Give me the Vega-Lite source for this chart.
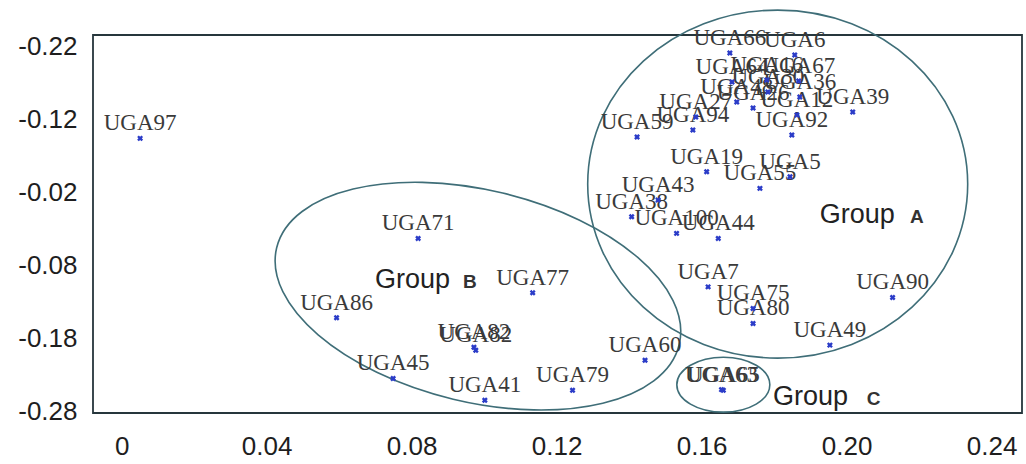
{
  "$schema": "https://vega.github.io/schema/vega-lite/v6.json",
  "width": 929,
  "height": 378,
  "autosize": "none",
  "padding": {"left": 93, "top": 35, "right": 4, "bottom": 51},
  "background": "white",
  "config": {"view": {"stroke": "#26363c", "strokeWidth": 1.8}},
  "datasets": {
    "pts": [
      {"id": "UGA97", "x": 0.0051, "y": 0.0945},
      {"id": "UGA71", "x": 0.0818, "y": -0.0425},
      {"id": "UGA77", "x": 0.1134, "y": -0.117},
      {"id": "UGA86", "x": 0.0593, "y": -0.151},
      {"id": "UGA82", "x": 0.0972, "y": -0.1914},
      {"id": "UGA82", "x": 0.0977, "y": -0.1955},
      {"id": "UGA45", "x": 0.0749, "y": -0.2342},
      {"id": "UGA41", "x": 0.1002, "y": -0.264},
      {"id": "UGA79", "x": 0.1244, "y": -0.2503},
      {"id": "UGA60", "x": 0.1444, "y": -0.2092},
      {"id": "UGA19", "x": 0.1614, "y": 0.0488},
      {"id": "UGA5", "x": 0.1844, "y": 0.0419},
      {"id": "UGA55", "x": 0.1761, "y": 0.026},
      {"id": "UGA43", "x": 0.148, "y": 0.01},
      {"id": "UGA38", "x": 0.1407, "y": -0.0129},
      {"id": "UGA100", "x": 0.1531, "y": -0.0356},
      {"id": "UGA44", "x": 0.1646, "y": -0.0425},
      {"id": "UGA7", "x": 0.1618, "y": -0.1088},
      {"id": "UGA75", "x": 0.1742, "y": -0.1384},
      {"id": "UGA80", "x": 0.1742, "y": -0.1589},
      {"id": "UGA90", "x": 0.2127, "y": -0.1233},
      {"id": "UGA49", "x": 0.1954, "y": -0.1886},
      {"id": "UGA65", "x": 0.166, "y": -0.2503},
      {"id": "UGA63", "x": 0.1655, "y": -0.2495},
      {"id": "UGA66", "x": 0.1678, "y": 0.2114},
      {"id": "UGA6", "x": 0.1857, "y": 0.2086},
      {"id": "UGA64", "x": 0.1684, "y": 0.1716},
      {"id": "UGA67", "x": 0.1868, "y": 0.173},
      {"id": "UGA16", "x": 0.178, "y": 0.1743},
      {"id": "UGA36", "x": 0.1871, "y": 0.1511},
      {"id": "UGA48", "x": 0.1697, "y": 0.1442},
      {"id": "UGA26", "x": 0.1742, "y": 0.136},
      {"id": "UGA30", "x": 0.1783, "y": 0.158},
      {"id": "UGA12", "x": 0.1863, "y": 0.1264},
      {"id": "UGA39", "x": 0.2017, "y": 0.1306},
      {"id": "UGA27", "x": 0.1584, "y": 0.1237},
      {"id": "UGA94", "x": 0.1576, "y": 0.1059},
      {"id": "UGA59", "x": 0.1422, "y": 0.0963},
      {"id": "UGA92", "x": 0.1849, "y": 0.099}
    ],
    "groups": [
      {"label": "Group", "kind": "word", "x": 0.1926, "y": -0.0217},
      {"label": "A", "kind": "letter", "x": 0.2175, "y": -0.0217},
      {"label": "Group", "kind": "word", "x": 0.0699, "y": -0.1105},
      {"label": "B", "kind": "letter", "x": 0.0942, "y": -0.1105},
      {"label": "Group", "kind": "word", "x": 0.1797, "y": -0.2708},
      {"label": "C", "kind": "letter", "x": 0.2056, "y": -0.2708}
    ],
    "ell": [
      {"g": "A", "x": 0.181, "y": 0.0319},
      {"g": "B", "x": 0.0983, "y": -0.1215},
      {"g": "C", "x": 0.166, "y": -0.2427}
    ],
    "xt": [
      {"x": 0}, {"x": 0.01}, {"x": 0.02}, {"x": 0.03}, {"x": 0.04}, {"x": 0.05}, {"x": 0.06}, {"x": 0.07}, {"x": 0.08}, {"x": 0.09},
      {"x": 0.1}, {"x": 0.11}, {"x": 0.12}, {"x": 0.13}, {"x": 0.14}, {"x": 0.15}, {"x": 0.16}, {"x": 0.17}, {"x": 0.18}, {"x": 0.19},
      {"x": 0.2}, {"x": 0.21}, {"x": 0.22}, {"x": 0.23}, {"x": 0.24}
    ],
    "yt": [
      {"y": -0.28}, {"y": -0.26}, {"y": -0.24}, {"y": -0.22}, {"y": -0.2}, {"y": -0.18}, {"y": -0.16}, {"y": -0.14}, {"y": -0.12},
      {"y": -0.1}, {"y": -0.08}, {"y": -0.06}, {"y": -0.04}, {"y": -0.02}, {"y": 0}, {"y": 0.02}, {"y": 0.04}, {"y": 0.06},
      {"y": 0.08}, {"y": 0.1}, {"y": 0.12}, {"y": 0.14}, {"y": 0.16}, {"y": 0.18}, {"y": 0.2}, {"y": 0.22}
    ]
  },
  "encoding": {
    "x": {
      "field": "x", "type": "quantitative",
      "scale": {"domain": [-0.0079, 0.2484], "nice": false, "zero": false},
      "axis": {
        "orient": "bottom", "title": null, "domain": false, "ticks": false,
        "values": [0, 0.04, 0.08, 0.12, 0.16, 0.2, 0.24],
        "labelExpr": "datum.value == 0 ? '0' : format(datum.value, '.2f')",
        "labelPadding": 20, "labelFont": "Liberation Sans", "labelFontSize": 26,
        "labelColor": "#1e1e1e", "labelOverlap": false, "labelFlush": false, "grid": false
      }
    },
    "y": {
      "field": "y", "type": "quantitative",
      "scale": {"domain": [-0.2815, 0.236], "nice": false, "zero": false},
      "axis": {
        "orient": "left", "title": null, "domain": false, "ticks": false,
        "values": [-0.28, -0.18, -0.08, 0.02, 0.12, 0.22],
        "labelExpr": "'-' + format(abs(datum.value), '.2f')",
        "labelPadding": 16, "labelFont": "Liberation Sans", "labelFontSize": 26,
        "labelColor": "#1e1e1e", "labelOverlap": false, "labelFlush": false, "grid": false
      }
    }
  },
  "layer": [
    {
      "data": {"name": "xt"},
      "mark": {"type": "tick", "orient": "vertical", "size": 6, "thickness": 1.5, "color": "#26363c", "opacity": 1, "yOffset": -3},
      "encoding": {"y": {"datum": -0.2815}}
    },
    {
      "data": {"name": "xt"},
      "mark": {"type": "tick", "orient": "vertical", "size": 6, "thickness": 1.5, "color": "#26363c", "opacity": 1, "yOffset": 3},
      "encoding": {"y": {"datum": 0.236}}
    },
    {
      "data": {"name": "yt"},
      "mark": {"type": "tick", "orient": "horizontal", "size": 9, "thickness": 1.5, "color": "#26363c", "opacity": 1, "xOffset": 4.5},
      "encoding": {"x": {"datum": -0.0079}}
    },
    {
      "data": {"name": "yt"},
      "mark": {"type": "tick", "orient": "horizontal", "size": 9, "thickness": 1.5, "color": "#26363c", "opacity": 1, "xOffset": -4.5},
      "encoding": {"x": {"datum": 0.2484}}
    },
    {
      "data": {"name": "ell"},
      "transform": [{"filter": "datum.g == 'A'"}],
      "mark": {"type": "point", "filled": false, "stroke": "#3f6e78", "strokeWidth": 1.6, "opacity": 1, "size": 144400,
        "shape": "M1,0C1,0.5058 0.5523,0.9158 0,0.9158C-0.5523,0.9158 -1,0.5058 -1,0C-1,-0.5058 -0.5523,-0.9158 0,-0.9158C0.5523,-0.9158 1,-0.5058 1,0Z"}
    },
    {
      "data": {"name": "ell"},
      "transform": [{"filter": "datum.g == 'B'"}],
      "mark": {"type": "point", "filled": false, "stroke": "#3f6e78", "strokeWidth": 1.6, "opacity": 1, "size": 171396, "angle": 13.5,
        "shape": "M1,0C1,0.2828 0.5523,0.512 0,0.512C-0.5523,0.512 -1,0.2828 -1,0C-1,-0.2828 -0.5523,-0.512 0,-0.512C0.5523,-0.512 1,-0.2828 1,0Z"}
    },
    {
      "data": {"name": "ell"},
      "transform": [{"filter": "datum.g == 'C'"}],
      "mark": {"type": "point", "filled": false, "stroke": "#3f6e78", "strokeWidth": 1.6, "opacity": 1, "size": 8649,
        "shape": "M1,0C1,0.3264 0.5523,0.591 0,0.591C-0.5523,0.591 -1,0.3264 -1,0C-1,-0.3264 -0.5523,-0.591 0,-0.591C0.5523,-0.591 1,-0.3264 1,0Z"}
    },
    {
      "data": {"name": "pts"},
      "mark": {"type": "text", "font": "Liberation Serif", "fontSize": 23, "dy": -15, "align": "center", "baseline": "middle", "color": "#3a3a3a"},
      "encoding": {"text": {"field": "id"}}
    },
    {
      "data": {"name": "pts"},
      "mark": {"type": "point", "shape": "cross", "angle": 45, "filled": true, "size": 36, "color": "#2b3cc8", "opacity": 1}
    },
    {
      "data": {"name": "groups"},
      "transform": [{"filter": "datum.kind == 'word'"}],
      "mark": {"type": "text", "font": "Liberation Sans", "fontSize": 27, "align": "left", "baseline": "alphabetic", "color": "#222222"},
      "encoding": {"text": {"field": "label"}}
    },
    {
      "data": {"name": "groups"},
      "transform": [{"filter": "datum.kind == 'letter'"}],
      "mark": {"type": "text", "font": "Liberation Sans", "fontSize": 19, "fontWeight": "bold", "align": "left", "baseline": "alphabetic", "color": "#333333"},
      "encoding": {"text": {"field": "label"}}
    }
  ]
}
